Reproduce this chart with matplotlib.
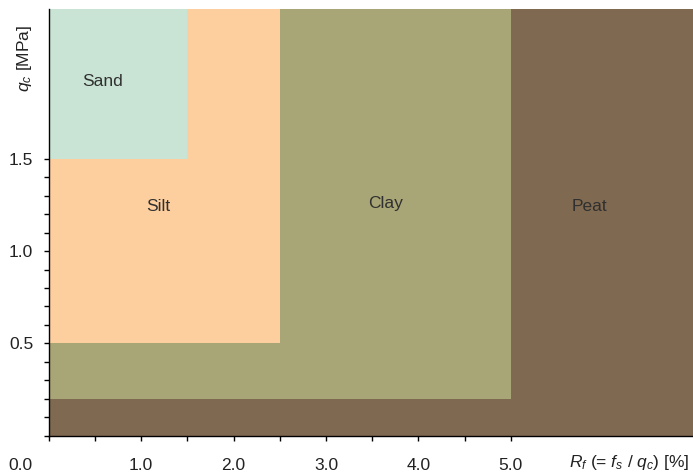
import matplotlib
matplotlib.use("Agg")
import matplotlib.pyplot as plt

# --- podaci: zone klasifikacije tla (CPT)
zone_names = ["Peat", "Clay", "Silt", "Sand"]
zone_rf_max = [7.0, 5.0, 2.5, 1.5]      # gornja granica R_f [%]
zone_qc_min = [0.0, 0.2, 0.5, 1.5]      # donja granica q_c [MPa]
zone_colors = ["#7f6950", "#a8a576", "#fecf9e", "#c9e4d4"]
label_x = [5.85, 3.64, 1.18, 0.58]
label_y = [1.24, 1.26, 1.24, 1.92]

x_major = [1.0, 2.0, 3.0, 4.0, 5.0]
x_minor = [0.0, 0.5, 1.5, 2.5, 3.5, 4.5]
y_major = [0.5, 1.0, 1.5]
y_minor = [0.0, 0.1, 0.2, 0.3, 0.4, 0.6, 0.7, 0.8, 0.9, 1.1, 1.2, 1.3, 1.4]

x_max = 6.97
y_max = 2.314

plt.rcParams['font.family'] = ['Liberation Sans', 'DejaVu Sans']
plt.rcParams['mathtext.fontset'] = 'custom'
plt.rcParams['mathtext.rm'] = 'Liberation Sans'
plt.rcParams['mathtext.it'] = 'Liberation Sans:italic'

fs = 12.5

fig = plt.figure(figsize=(6.93, 4.74), dpi=100)
ax = fig.add_axes([48.7/693, 38.5/474, 1 - 48.7/693, 426.5/474])

for name, xm, ym, c, lx, ly in zip(zone_names, zone_rf_max, zone_qc_min, zone_colors, label_x, label_y):
    ax.fill_between([0, xm], ym, y_max, color=c, lw=0)
    ax.text(lx, ly, name, ha='center', va='center', fontsize=fs, color='#303030')

ax.set_xlim(0, x_max)
ax.set_ylim(0, y_max)

ax.spines['top'].set_visible(False)
ax.spines['right'].set_visible(False)
ax.spines['left'].set_linewidth(1.0)
ax.spines['bottom'].set_linewidth(1.0)

ax.set_xticks(x_major)
ax.set_xticklabels(["%.1f" % v for v in x_major])
ax.set_xticks(x_minor, minor=True)
ax.set_yticks(y_major)
ax.set_yticklabels(["%.1f" % v for v in y_major])
ax.set_yticks(y_minor, minor=True)

ax.tick_params(axis='x', which='both', direction='out', length=3.6, width=1, pad=12.5, labelsize=fs, labelcolor='#222222')
ax.tick_params(axis='y', which='both', direction='out', length=3.6, width=1, pad=7.5, labelsize=fs, labelcolor='#222222')

# ishodiste i nazivi osi
fig.text(20/693, 1 - 465/474, "0.0", ha='center', va='center', fontsize=fs, color='#222222')
fig.text(690/693, 1 - 463/474, "$R_f$ (= $f_s$ / $q_c$) [%]", ha='right', va='center', fontsize=fs, color='#222222')
fig.text(24/693, 1 - 58/474, "$q_c$ [MPa]", ha='center', va='center', rotation=90, fontsize=fs, color='#222222')

plt.savefig('out.png', dpi=100)
